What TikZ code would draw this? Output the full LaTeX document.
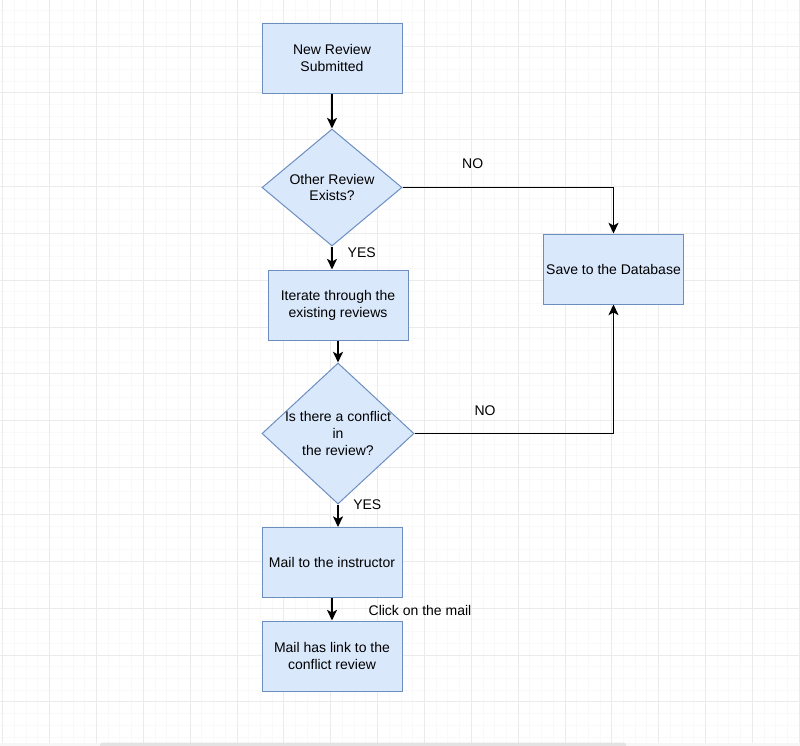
\documentclass[tikz,border=0pt]{standalone}
\usepackage{fontspec}
\setmainfont{Liberation Sans}
\usepackage{xcolor}
\usepackage{tikz}
\usetikzlibrary{arrows.meta,positioning,shapes.geometric}
\definecolor{boxfill}{HTML}{DAE8FC}
\definecolor{boxline}{HTML}{6C8EBF}

\begin{document}
\begin{tikzpicture}[x=0.75pt, y=-0.75pt,
    every node/.style={font=\fontsize{10.5pt}{12.6pt}\selectfont},
    process/.style={draw=boxline, fill=boxfill, line width=0.75pt,
        minimum width=105pt, minimum height=52.5pt, align=center, inner sep=0pt},
    decision/.style={diamond, draw=boxline, fill=boxfill, line width=0.75pt,
        inner sep=0pt},
    flow/.style={-{Stealth[length=8pt,width=7.5pt,inset=2pt]}, line width=1.25pt},
    gridminor/.style={gray!5, line width=0.75pt},
    gridmajor/.style={gray!16, line width=0.75pt}]

\useasboundingbox (0,0) rectangle (800,746);

% background grid
\foreach \i in {0,...,68}
    \draw[gridminor] ({2.8+11.7125*\i},0) -- ({2.8+11.7125*\i},742.5);
\foreach \i in {1,...,63}
    \draw[gridminor] (0,{-0.85+11.7125*\i}) -- (800,{-0.85+11.7125*\i});
\foreach \i in {0,...,17}
    \draw[gridmajor] ({2.8+46.85*\i},0) -- ({2.8+46.85*\i},742.5);
\foreach \i in {1,...,15}
    \draw[gridmajor] (0,{-0.85+46.85*\i}) -- (800,{-0.85+46.85*\i});

% scroll bar
\fill[gray!7] (0,742.5) rectangle (800,746);
\fill[gray!22, rounded corners=2pt] (100,742.5) rectangle (626,749);

\node[process] (newrev) at (332,58) {New Review\\Submitted};
\node[decision, minimum width=105pt, minimum height=87.75pt] (exists) at (332,187.5) {};
\node[align=center] (existstext) at (exists) {Other Review\\Exists?};
\node[process] (iterate) at (338,305) {Iterate through the\\existing reviews};
\node[decision, minimum width=114pt, minimum height=105.75pt] (conflict) at (338,433.5) {};
\node[align=center] (conflicttext) at (conflict) {Is there a conflict\\in\\the review?};
\node[process] (mail) at (332,562.5) {Mail to the instructor};
\node[process] (link) at (332,656) {Mail has link to the\\conflict review};
\node[process] (save) at (613.5,269) {Save to the Database};

\draw[flow] (newrev) -- (exists);
\draw[flow] (exists.south) -- (exists.south |- iterate.north);
\draw[flow] (iterate) -- (conflict);
\draw[flow] (conflict.south) -- (conflict.south |- mail.north);
\draw[flow] (mail) -- (link);
\draw[flow] (exists.east) -| (save.north);
\draw[flow] (conflict.east) -| (save.south);

\node[] (noexists) at (472.7,164) {NO};
\node[] (yesexists) at (361.7,252.7) {YES};
\node[] (noconflict) at (485,411) {NO};
\node[] (yesconflict) at (367.3,504.3) {YES};
\node[] (click) at (420,610) {Click on the mail};

\end{tikzpicture}
\end{document}
